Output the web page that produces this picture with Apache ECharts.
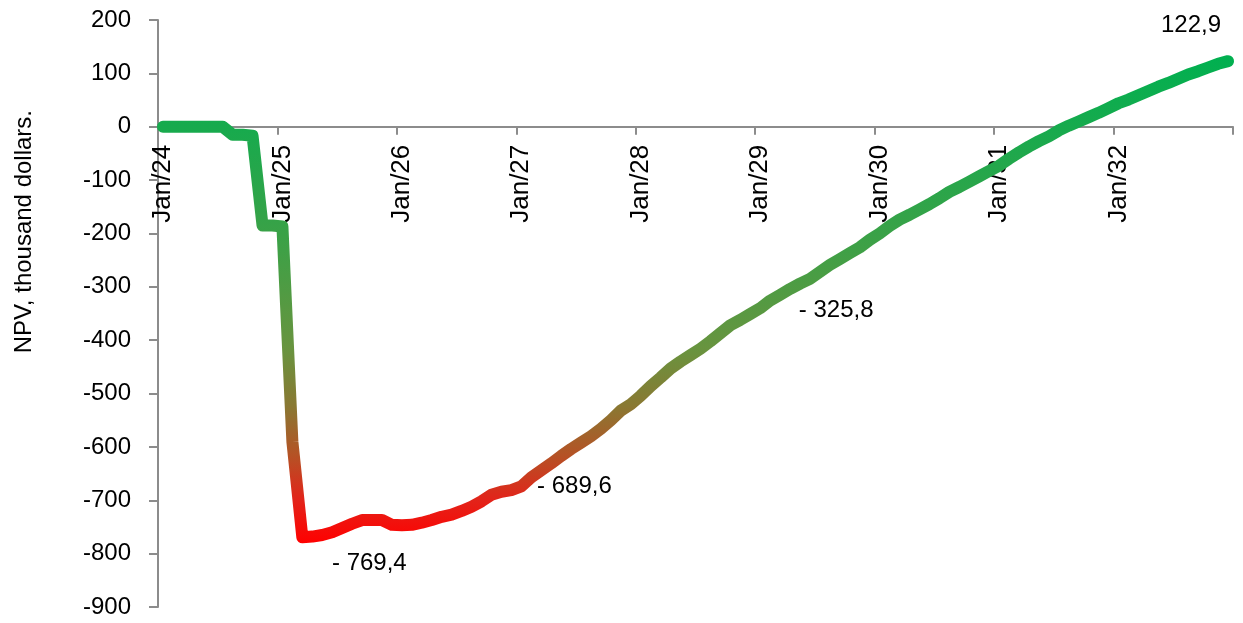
<!DOCTYPE html>
<html>
<head>
<meta charset="utf-8">
<script src="https://cdn.jsdelivr.net/npm/echarts@6/dist/echarts.min.js"></script>
<style>
html,body{margin:0;padding:0;background:#fff;}
#chart{width:1243px;height:623px;}
</style>
</head>
<body>
<div id="chart"></div>
<script>
// Monthly categories Jan/24 .. Dec/32
const monthNames = ['Jan','Feb','Mar','Apr','May','Jun','Jul','Aug','Sep','Oct','Nov','Dec'];
const years = ['24','25','26','27','28','29','30','31','32'];
const categories = [];
years.forEach(y => monthNames.forEach(m => categories.push(m + '/' + y)));

// NPV, thousand dollars
const npv = [
  0, 0, 0, 0, 0, 0, 0, -15, -15, -17, -185, -185,           // 2024
  -187, -590, -769.4, -768, -765, -760, -752, -744, -737, -737, -737, -746, // 2025
  -747, -746, -742, -737, -731, -727, -720, -712, -702, -689.6, -684, -681, // 2026
  -674, -657, -644, -631, -617, -604, -592, -580, -566, -550, -532, -520,   // 2027
  -504, -486, -470, -453, -440, -428, -416, -402, -387, -372, -362, -351,   // 2028
  -340, -325.8, -315, -304, -294, -285, -272, -259, -248, -237, -226, -212, // 2029
  -200, -186, -174, -165, -155, -145, -134, -122, -113, -103, -93, -83,     // 2030
  -73, -60, -48, -37, -27, -18, -7, 2, 10, 18, 26, 35,                      // 2031
  44, 51, 59, 67, 75, 82, 90, 98, 104, 111, 118, 122.9                      // 2032
];

// Annotated points: category index and label text
const labelIdx = [14, 33, 61, 107];
const labelText = ['- 769,4', '- 689,6', '- 325,8', '122,9'];
const labelOffsets = [[67, 26], [83, -8], [66, 10], [-37, -36]];

// Y axis ticks
const yMin = -900, yMax = 200, yStep = 100;

const FONT = '"Liberation Sans", Arial, sans-serif';
const axisGray = '#8c8c8c';

const W = 1243, H = 623;
const gridTop = 20, gridBottom = 16;
const plotH = H - gridTop - gridBottom;
// place category axis on the zero line of the value axis
const zeroY = gridTop + (yMax - 0) / (yMax - yMin) * plotH;
const xAxisOffset = -(H - gridBottom - zeroY);

const chart = echarts.init(document.getElementById('chart'), null, {renderer: 'canvas'});

const labelData = labelIdx.map((idx, k) => ({
  value: [categories[idx], npv[idx]],
  label: {
    show: true,
    formatter: labelText[k],
    position: 'inside',
    offset: labelOffsets[k]
  }
}));

chart.setOption({
  animation: false,
  backgroundColor: '#ffffff',
  grid: {left: 158, right: 10, top: gridTop, bottom: gridBottom, containLabel: false, outerBoundsMode: 'none'},
  xAxis: {
    type: 'category',
    data: categories,
    boundaryGap: true,
    position: 'bottom',
    offset: xAxisOffset,
    axisLine: {onZero: false, lineStyle: {color: axisGray, width: 2}},
    axisTick: {show: true, interval: 11, length: 8, lineStyle: {color: axisGray, width: 2}},
    axisLabel: {
      interval: 11, rotate: 90, margin: 18,
      color: '#000', fontSize: 26, fontFamily: FONT
    },
    splitLine: {show: false}
  },
  yAxis: {
    type: 'value',
    min: yMin, max: yMax, interval: yStep,
    axisLine: {show: true, lineStyle: {color: axisGray, width: 2}},
    axisTick: {show: true, length: 9, lineStyle: {color: axisGray, width: 2}},
    axisLabel: {margin: 27, color: '#000', fontSize: 24, fontFamily: FONT},
    splitLine: {show: false}
  },
  graphic: [{
    type: 'text',
    left: 12, top: 110,
    rotation: Math.PI / 2,
    style: {
      text: 'NPV, thousand dollars.',
      fill: '#000', fontSize: 24, fontFamily: FONT
    }
  }],
  series: [
    {
      type: 'line',
      data: npv,
      showSymbol: false,
      symbol: 'none',
      lineStyle: {
        width: 12, cap: 'round', join: 'round',
        color: new echarts.graphic.LinearGradient(0, 0, 0, 1, [
          {offset: 0, color: '#00b050'},
          {offset: 0.2, color: '#1fa84c'},
          {offset: 0.4, color: '#3fa046'},
          {offset: 0.6, color: '#68943f'},
          {offset: 0.72, color: '#8a7832'},
          {offset: 0.82, color: '#b55225'},
          {offset: 0.91, color: '#e2241a'},
          {offset: 1, color: '#ff0000'}
        ])
      },
      z: 2
    },
    {
      type: 'scatter',
      data: labelData,
      symbolSize: 0,
      silent: true,
      itemStyle: {color: '#000', opacity: 1},
      label: {
        color: '#000', opacity: 1, fontSize: 24, fontFamily: FONT,
        textBorderWidth: 0, textBorderColor: 'transparent',
        textShadowBlur: 0
      },
      z: 3
    }
  ]
});
</script>
</body>
</html>
